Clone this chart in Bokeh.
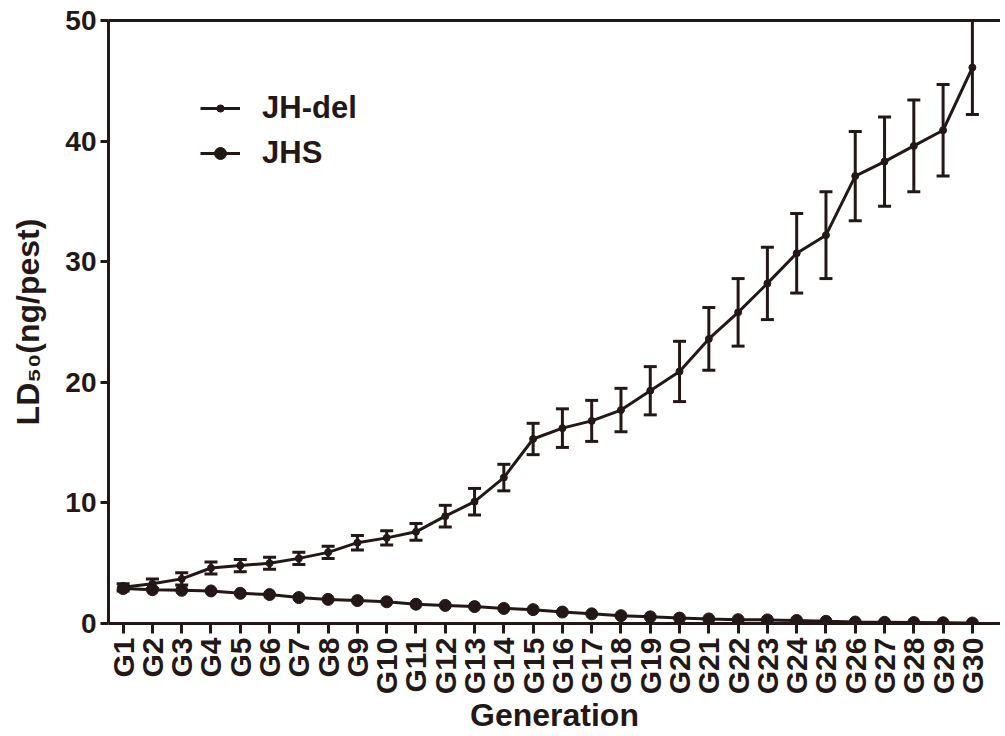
import math
from bokeh.plotting import figure
from bokeh.models import (ColumnDataSource, Whisker, TeeHead, FixedTicker, LinearAxis,
                          Legend, LegendItem, Range1d)
from bokeh.embed import file_html
from bokeh.resources import INLINE

generations = ["G1", "G2", "G3", "G4", "G5", "G6", "G7", "G8", "G9", "G10",
               "G11", "G12", "G13", "G14", "G15", "G16", "G17", "G18", "G19", "G20",
               "G21", "G22", "G23", "G24", "G25", "G26", "G27", "G28", "G29", "G30"]
jh_del_mean = [3.0, 3.3, 3.7, 4.6, 4.8, 5.0, 5.4, 5.9, 6.7, 7.1,
               7.6, 8.9, 10.1, 12.1, 15.3, 16.2, 16.8, 17.7, 19.3, 20.9,
               23.6, 25.8, 28.2, 30.7, 32.2, 37.1, 38.3, 39.6, 40.9, 46.1]
jh_del_err = [0.3, 0.4, 0.5, 0.5, 0.5, 0.5, 0.5, 0.5, 0.6, 0.6,
              0.7, 0.9, 1.1, 1.1, 1.3, 1.6, 1.7, 1.8, 2.0, 2.5,
              2.6, 2.8, 3.0, 3.3, 3.6, 3.7, 3.7, 3.8, 3.8, 3.9]
jhs_mean = [2.9, 2.8, 2.75, 2.7, 2.5, 2.4, 2.15, 2.0, 1.9, 1.8,
            1.6, 1.5, 1.4, 1.25, 1.15, 0.95, 0.8, 0.65, 0.55, 0.45,
            0.38, 0.32, 0.3, 0.25, 0.18, 0.12, 0.1, 0.08, 0.06, 0.04]
y_ticks = [0, 10, 20, 30, 40, 50]

INK = "#231815"
FONT = "Liberation Sans"

xs = list(range(1, len(generations) + 1))
src_del = ColumnDataSource(dict(
    x=xs, y=jh_del_mean,
    upper=[m + e for m, e in zip(jh_del_mean, jh_del_err)],
    lower=[m - e for m, e in zip(jh_del_mean, jh_del_err)]))
src_jhs = ColumnDataSource(dict(x=xs, y=jhs_mean))

p = figure(width=1000, height=736, output_backend="svg", toolbar_location=None,
           x_range=Range1d(0.5, 30.96), y_range=Range1d(0, 50))
p.min_border_left = 108
p.min_border_right = 0
p.min_border_top = 20
p.min_border_bottom = 0
p.outline_line_color = None
p.grid.visible = False
p.background_fill_color = "white"
p.border_fill_color = "white"

# error bars
wh = Whisker(base="x", upper="upper", lower="lower", source=src_del,
             line_color=INK, line_width=3,
             upper_head=TeeHead(size=13, line_color=INK, line_width=3),
             lower_head=TeeHead(size=13, line_color=INK, line_width=3))
p.add_layout(wh)

l1 = p.line("x", "y", source=src_del, line_color=INK, line_width=3)
s1 = p.scatter("x", "y", source=src_del, size=7, color=INK)
l2 = p.line("x", "y", source=src_jhs, line_color=INK, line_width=3)
s2 = p.scatter("x", "y", source=src_jhs, size=12, color=INK)

# axes
xa = p.xaxis[0]
xa.ticker = FixedTicker(ticks=xs)
xa.major_label_overrides = {i: g for i, g in zip(xs, generations)}
xa.major_label_orientation = math.pi / 2
xa.axis_label = "Generation"
ya = p.yaxis[0]
ya.ticker = FixedTicker(ticks=y_ticks)
ya.axis_label = "LD₅₀(ng/pest)"
for ax in (xa, ya):
    ax.axis_line_color = INK
    ax.axis_line_width = 3
    ax.major_tick_line_color = INK
    ax.major_tick_line_width = 3
    ax.major_tick_in = 0
    ax.minor_tick_line_color = None
    ax.major_label_text_font = FONT
    ax.major_label_text_font_style = "bold"
    ax.major_label_text_color = INK
    ax.axis_label_text_font = FONT
    ax.axis_label_text_font_style = "bold"
    ax.axis_label_text_font_size = "32px"
    ax.axis_label_text_color = INK
xa.major_label_text_font_size = "30px"
ya.major_label_text_font_size = "28px"
xa.major_tick_out = 10
xa.major_label_standoff = 4
xa.axis_label_standoff = 0
ya.major_tick_out = 8
ya.major_label_standoff = 4
ya.axis_label_standoff = 16

top = LinearAxis(ticker=FixedTicker(ticks=[]), axis_line_color=INK, axis_line_width=3,
                 major_label_text_font_size="0px", minor_tick_line_color=None,
                 major_tick_line_color=None)
p.add_layout(top, "above")

common = dict(border_line_color=None, background_fill_alpha=0, padding=0, margin=0,
              glyph_width=40, label_height=35, label_standoff=22,
              label_text_font=FONT, label_text_font_style="bold",
              label_text_font_size="31px", label_text_color=INK)
leg1 = Legend(items=[LegendItem(label="JH-del", renderers=[l1, s1])],
              location=(92, 497), glyph_height=18, **common)
leg2 = Legend(items=[LegendItem(label="JHS", renderers=[l2, s2])],
              location=(92, 452), glyph_height=30, **common)
p.add_layout(leg1)
p.add_layout(leg2)

open("out.html", "w").write(file_html(p, INLINE))
